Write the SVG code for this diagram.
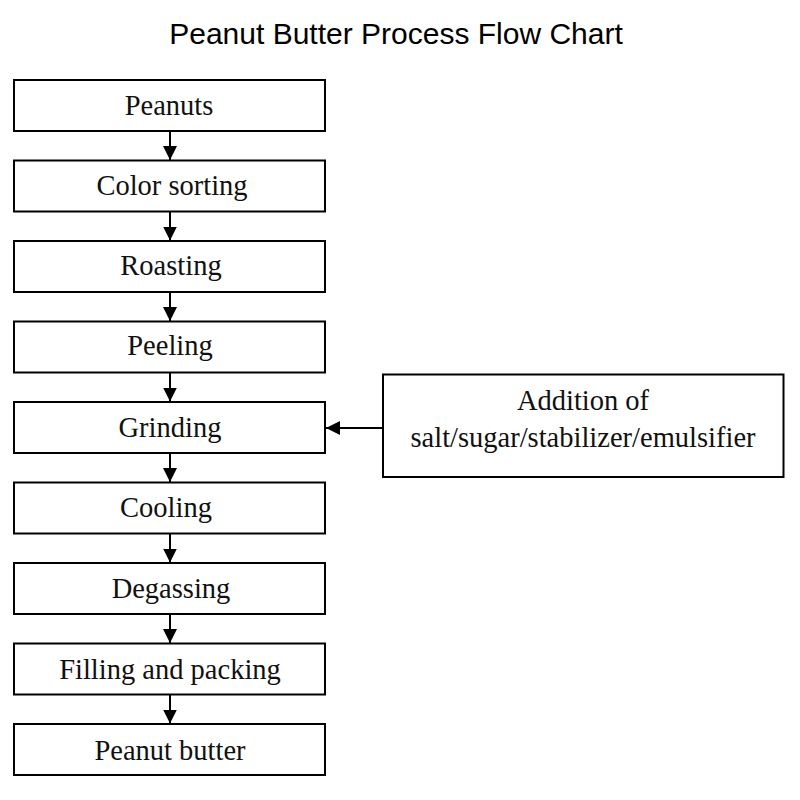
<svg xmlns="http://www.w3.org/2000/svg" width="800" height="800" viewBox="0 0 800 800">
<style>
.box{fill:#fff;stroke:#000;stroke-width:2}
.lbl{font-family:"Liberation Serif","Times New Roman",serif;font-size:28.5px;fill:#111;text-anchor:middle}
.title{font-family:"Liberation Sans",Arial,sans-serif;font-size:30px;fill:#000;text-anchor:middle}
.conn{stroke:#000;stroke-width:2;fill:none}
</style>
<defs>
<marker id="ah" viewBox="0 0 14 14" refX="14" refY="7" markerWidth="14" markerHeight="14" markerUnits="userSpaceOnUse" orient="auto">
<path d="M0,0 L14,7 L0,14 Z" fill="#000"/>
</marker>
</defs>
<rect width="800" height="800" fill="#fff"/>
<text class="title" x="396" y="44">Peanut Butter Process Flow Chart</text>
<g id="connectors">
<line class="conn" x1="170" y1="131" x2="170" y2="160" marker-end="url(#ah)"/>
<line class="conn" x1="170" y1="211.5" x2="170" y2="240.5" marker-end="url(#ah)"/>
<line class="conn" x1="170" y1="292" x2="170" y2="321" marker-end="url(#ah)"/>
<line class="conn" x1="170" y1="372.5" x2="170" y2="401.5" marker-end="url(#ah)"/>
<line class="conn" x1="170" y1="453" x2="170" y2="482" marker-end="url(#ah)"/>
<line class="conn" x1="170" y1="533.5" x2="170" y2="562.5" marker-end="url(#ah)"/>
<line class="conn" x1="170" y1="614" x2="170" y2="643" marker-end="url(#ah)"/>
<line class="conn" x1="170" y1="694.5" x2="170" y2="723.5" marker-end="url(#ah)"/>
<line class="conn" x1="383" y1="428" x2="326" y2="428" marker-end="url(#ah)"/>
</g>
<g id="n1"><rect class="box" x="14" y="80" width="311" height="51"/><text class="lbl" x="169" y="115">Peanuts</text></g>
<g id="n2"><rect class="box" x="14" y="160.5" width="311" height="51"/><text class="lbl" x="172" y="195">Color sorting</text></g>
<g id="n3"><rect class="box" x="14" y="241" width="311" height="51"/><text class="lbl" x="171" y="275">Roasting</text></g>
<g id="n4"><rect class="box" x="14" y="321.5" width="311" height="51"/><text class="lbl" x="170" y="355">Peeling</text></g>
<g id="n5"><rect class="box" x="14" y="402" width="311" height="51"/><text class="lbl" x="170" y="437">Grinding</text></g>
<g id="n6"><rect class="box" x="14" y="482.5" width="311" height="51"/><text class="lbl" x="166" y="517">Cooling</text></g>
<g id="n7"><rect class="box" x="14" y="563" width="311" height="51"/><text class="lbl" x="171" y="598">Degassing</text></g>
<g id="n8"><rect class="box" x="14" y="643.5" width="311" height="51"/><text class="lbl" x="170" y="679">Filling and packing</text></g>
<g id="n9"><rect class="box" x="14" y="724" width="311" height="51"/><text class="lbl" x="170" y="760">Peanut butter</text></g>
<g id="n10"><rect class="box" x="383" y="374.5" width="400.5" height="102.5"/><text class="lbl" x="583" y="410">Addition of</text><text class="lbl" x="583" y="447">salt/sugar/stabilizer/emulsifier</text></g>
</svg>
